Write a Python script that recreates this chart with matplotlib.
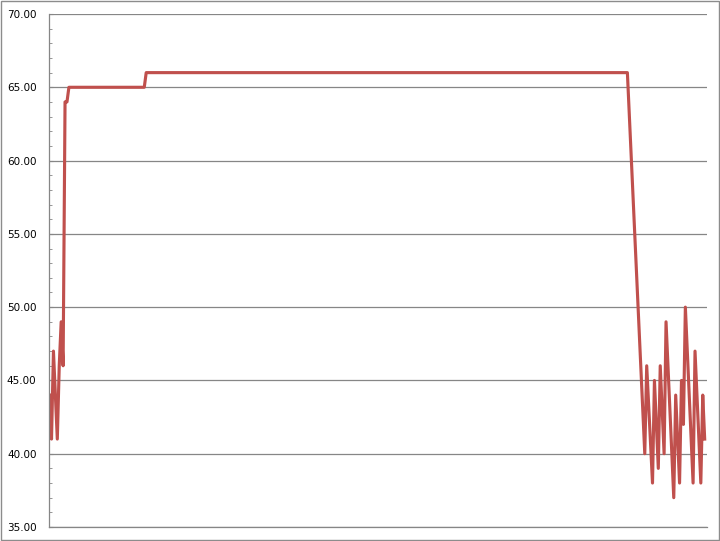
import matplotlib
matplotlib.use("Agg")
import matplotlib.pyplot as plt
from matplotlib.patches import Rectangle
from matplotlib.ticker import MultipleLocator, FormatStrFormatter

# sample number and reading; points that sit on a straight run are left out
sample = [0, 1, 2, 4, 5, 6, 7, 8, 9, 10, 49, 50, 299, 308, 309, 312, 313, 315,
          316, 318, 319, 323, 324, 326, 327, 328, 329, 333, 334, 337, 338, 339]
reading = [44, 41, 47, 41, 46, 49, 46, 64, 64, 65, 65, 66, 66, 40, 46, 38, 45, 39,
           46, 40, 49, 37, 44, 38, 45, 42, 50, 38, 47, 38, 44, 41]

grey = "#868686"

fig = plt.figure(figsize=(7.2, 5.41), dpi=100)
ax = fig.add_axes([49 / 720, 1 - 527 / 541, 658 / 720, 513 / 541])

ax.plot(sample, reading, color="#C0504D", lw=2.25, solid_joinstyle="round")

ax.set_ylim(35, 70)
ax.set_xlim(-0.3, 340.2)
ax.yaxis.set_major_locator(MultipleLocator(5))
ax.yaxis.set_minor_locator(MultipleLocator(1))
ax.yaxis.set_major_formatter(FormatStrFormatter("%.2f"))
ax.set_xticks([])
ax.grid(axis="y", color=grey, lw=0.9)
ax.set_axisbelow(True)

for s in ["top", "right"]:
    ax.spines[s].set_visible(False)
for s in ["left", "bottom"]:
    ax.spines[s].set_color(grey)
    ax.spines[s].set_linewidth(0.9)

ax.tick_params(axis="y", which="both", direction="in", color=grey, labelsize=7.5,
               labelcolor="#000000", pad=9)
ax.tick_params(axis="y", which="major", length=3)
ax.tick_params(axis="y", which="minor", length=2.5)

fig.patches.append(Rectangle((0.0007, 0.001), 0.9985, 0.997, transform=fig.transFigure,
                             fill=False, edgecolor="#8c8c8c", lw=1))

fig.savefig("out.png", dpi=100)
